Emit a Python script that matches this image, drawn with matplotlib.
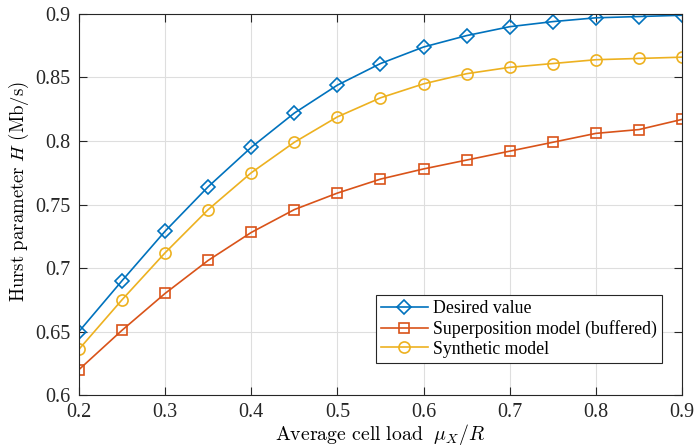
import matplotlib
matplotlib.use('Agg')
import matplotlib.pyplot as plt
import numpy as np

load = [0.2, 0.25, 0.3, 0.35, 0.4, 0.45, 0.5, 0.55, 0.6, 0.65, 0.7, 0.75, 0.8, 0.85, 0.9]
desired = [0.650, 0.690, 0.729, 0.764, 0.795, 0.822, 0.844, 0.861, 0.874, 0.883, 0.890, 0.894, 0.897, 0.898, 0.899]
superpos = [0.620, 0.651, 0.680, 0.706, 0.728, 0.746, 0.759, 0.770, 0.778, 0.785, 0.792, 0.799, 0.806, 0.809, 0.817]
synthetic = [0.636, 0.675, 0.712, 0.746, 0.775, 0.799, 0.819, 0.834, 0.845, 0.853, 0.858, 0.861, 0.864, 0.865, 0.866]

plt.rcParams['font.family'] = ['Liberation Serif', 'DejaVu Serif']
plt.rcParams['mathtext.fontset'] = 'cm'
plt.rcParams['font.size'] = 14

fig = plt.figure(figsize=(6.97, 4.47), dpi=100)
ax = fig.add_axes([0.1133, 0.1163, 0.8652, 0.8524])

ax.plot(load, desired, color='#0072BD', marker='D', markersize=7, markerfacecolor='none',
        markeredgewidth=1.2, linewidth=1.2, label='Desired value')
ax.plot(load, superpos, color='#D95319', marker='s', markersize=6.5, markerfacecolor='none',
        markeredgewidth=1.2, linewidth=1.2, label='Superposition model (buffered)')
ax.plot(load, synthetic, color='#EDB120', marker='o', markersize=8, markerfacecolor='none',
        markeredgewidth=1.2, linewidth=1.2, label='Synthetic model')

ax.set_xlim(0.2, 0.9)
ax.set_ylim(0.6, 0.9)
ax.set_xticks(np.arange(0.2, 0.91, 0.1))
ax.set_yticks([0.6, 0.65, 0.7, 0.75, 0.8, 0.85, 0.9])
ax.set_xticklabels(['0.2', '0.3', '0.4', '0.5', '0.6', '0.7', '0.8', '0.9'])
ax.set_yticklabels(['0.6', '0.65', '0.7', '0.75', '0.8', '0.85', '0.9'])
ax.grid(True, color='#dedede', linewidth=0.8)
ax.set_axisbelow(True)
ax.tick_params(direction='in', top=True, right=True, length=6, width=0.8, colors='#262626',
               labelsize=14.5, pad=6)
for s in ax.spines.values():
    s.set_color('#262626')
    s.set_linewidth(0.8)

ax.set_xlabel(r'$\mathrm{Average\ cell\ load}\ \ \mu_X/R$', fontsize=14.3, labelpad=0)
ax.set_ylabel(r'$\mathrm{Hurst\ parameter}\ H\ \mathrm{(Mb/s)}$', fontsize=13.5)
ax.yaxis.set_label_coords(-0.08, 0.535)

leg = ax.legend(loc='lower right', bbox_to_anchor=(0.967, 0.084), fancybox=False, framealpha=1,
                edgecolor='#262626', borderpad=0.3, labelspacing=0.15, handlelength=2.6,
                handletextpad=0.3, fontsize=12.8, borderaxespad=0)
leg.get_frame().set_linewidth(0.8)

fig.savefig('out.png', dpi=100)
